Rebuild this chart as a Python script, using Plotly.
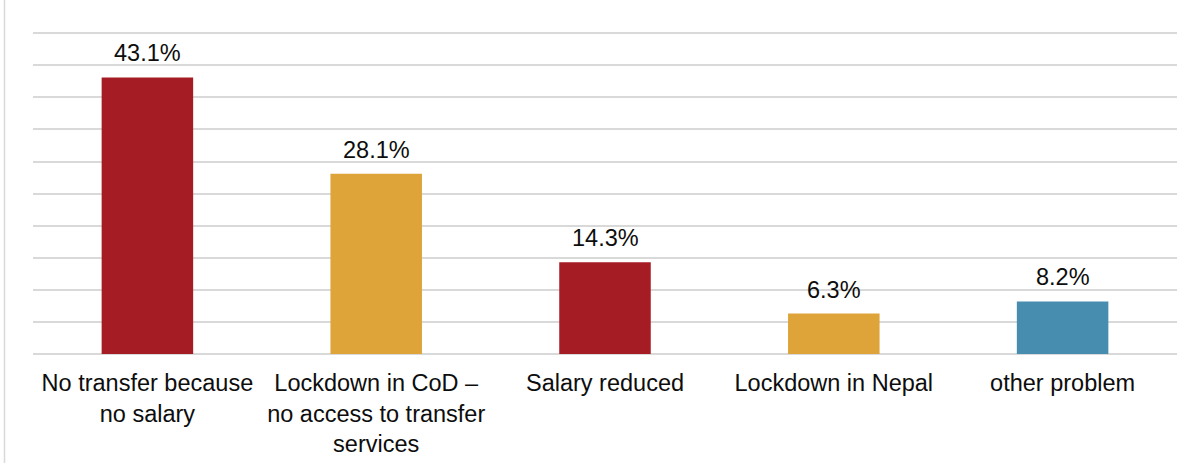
import plotly.graph_objects as go

categories = [
    "No transfer because<br>no salary",
    "Lockdown in CoD –<br>no access to transfer<br>services",
    "Salary reduced",
    "Lockdown in Nepal",
    "other problem",
]
values = [43.1, 28.1, 14.3, 6.3, 8.2]
labels = ["43.1%", "28.1%", "14.3%", "6.3%", "8.2%"]
colors = ["#A51C24", "#DEA43A", "#A51C24", "#DEA43A", "#468DB0"]

FONT = "Liberation Sans, Arial, sans-serif"

fig = go.Figure()
fig.add_trace(go.Bar(
    x=categories, y=values,
    marker=dict(color=colors, line=dict(width=0)),
    hoverinfo="skip",
))

for c, v, t in zip(categories, values, labels):
    fig.add_annotation(
        x=c, y=v, text=t, showarrow=False,
        yanchor="bottom", yshift=9,
        font=dict(family=FONT, size=23.5, color="#0d0d0d"),
    )

W, H = 1201, 463
ml, mr, mt, mb = 33, 24, 30, 109
ph = H - mt - mb
pw = W - ml - mr

fig.add_shape(
    type="line", xref="paper", yref="paper",
    x0=(4.5 - ml) / pw, x1=(4.5 - ml) / pw,
    y0=-(mb) / ph, y1=1 + mt / ph,
    line=dict(color="#d9d9d9", width=1.5),
)

fig.update_layout(
    width=W, height=H,
    margin=dict(l=ml, r=mr, t=mt, b=mb, pad=0, autoexpand=False),
    paper_bgcolor="white", plot_bgcolor="white",
    bargap=0.6,
    showlegend=False,
    font=dict(family=FONT, size=23.5, color="#0d0d0d"),
    xaxis=dict(
        showgrid=False, showline=False, zeroline=False, automargin=False,
        ticks="outside", ticklen=8, tickcolor="rgba(0,0,0,0)",
        tickfont=dict(family=FONT, size=23.5, color="#0d0d0d"),
    ),
    yaxis=dict(
        range=[0, 50.5], dtick=5, showticklabels=False, automargin=False,
        showgrid=True, gridcolor="#d9d9d9", gridwidth=1.5,
        zeroline=True, zerolinecolor="#d9d9d9", zerolinewidth=1.5,
        showline=False, ticks="",
    ),
)

fig.write_html("out.html", config={"displayModeBar": False})

with open("out.html", "r", encoding="utf-8") as f:
    html = f.read()
html = html.replace("<head>", "<head><style>html,body{margin:0;padding:0;overflow:hidden;}</style>", 1)
with open("out.html", "w", encoding="utf-8") as f:
    f.write(html)
